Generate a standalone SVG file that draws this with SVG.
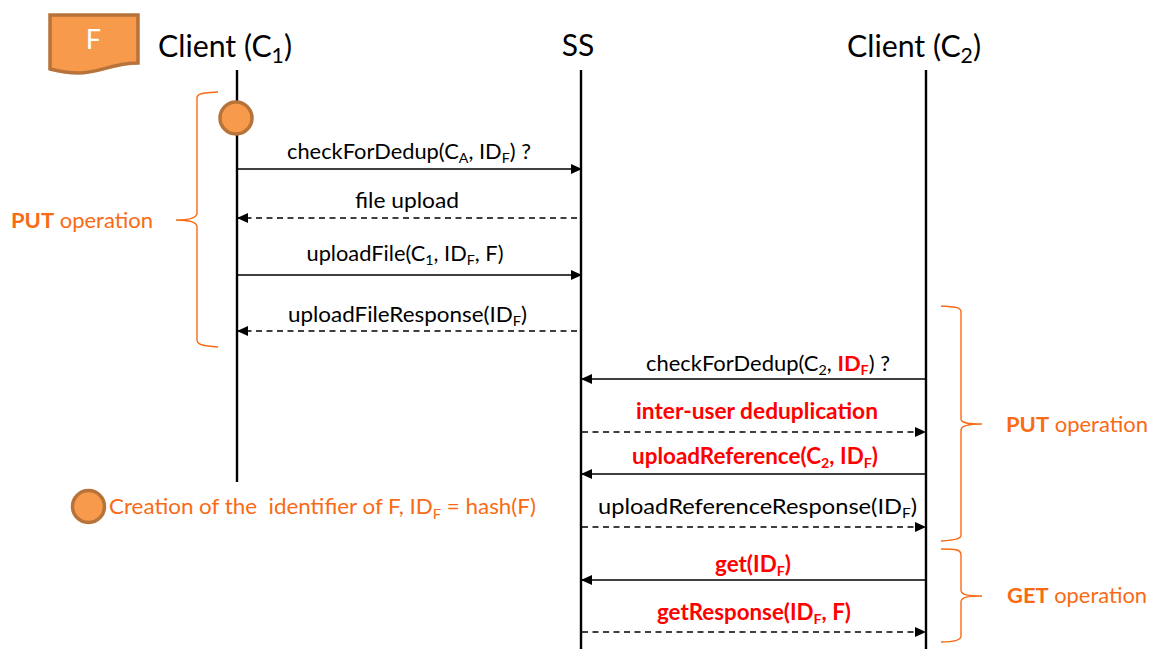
<svg xmlns="http://www.w3.org/2000/svg" width="1150" height="649" viewBox="0 0 1150 649">
<style>
text{font-family:Lato,"Open Sans","Liberation Sans",sans-serif;white-space:pre}
.h{font-size:30px;fill:#000;text-anchor:middle}
.l{font-size:21.500px;fill:#000;text-anchor:middle}
.r{font-size:22px;fill:#f00;font-weight:700;text-anchor:middle}
.o{font-size:21.500px;fill:#f96a15}
.s{font-size:14px}
.hs{font-size:21px}
.b{font-weight:700}
.life{stroke:#000;stroke-width:2.4;fill:none}
.msg{stroke:#000;stroke-width:1.4;fill:none}
.d{stroke-dasharray:6 4.5}
.e{marker-end:url(#a)}
.br{stroke:#f96a15;stroke-width:1.4;fill:none}
.shape{fill:#f79a4c;stroke:#b8733a;stroke-width:3.5}
</style>
<defs><marker id="a" markerUnits="userSpaceOnUse" markerWidth="11" markerHeight="10" refX="10" refY="5" orient="auto"><path d="M0 0L11 5L0 10z" fill="#000"/></marker></defs>
<rect width="1150" height="649" fill="#fff"/>
<g id="connectors">
<path class="life" d="M237 70V482M581 70V649M926 70V649"/>
<path class="msg e" d="M238 169H581"/>
<path class="msg d e" d="M577 218H238"/>
<path class="msg e" d="M238 275H581"/>
<path class="msg d e" d="M577 331H238"/>
<path class="msg e" d="M925 379H582"/>
<path class="msg d e" d="M582 432H925"/>
<path class="msg e" d="M925 474H582"/>
<path class="msg d e" d="M582 527H925"/>
<path class="msg e" d="M925 580H582"/>
<path class="msg d e" d="M582 632H925"/>
</g>
<g id="file-F"><path class="shape" d="M50 15H138V63C112 63 100 73 78 73C66 73 58 71 50 69Z"/><text x="93.500" y="49" font-size="27" fill="#fff" text-anchor="middle">F</text></g>
<g id="client-c1"><text class="h" x="225" y="57" textLength="134" lengthAdjust="spacingAndGlyphs">Client (C<tspan class="hs" dy="6">1</tspan><tspan dy="-6">)</tspan></text></g>
<g id="ss"><text class="h" x="578" y="56">SS</text></g>
<g id="client-c2"><text class="h" x="914" y="57" textLength="134" lengthAdjust="spacingAndGlyphs">Client (C<tspan class="hs" dy="6">2</tspan><tspan dy="-6">)</tspan></text></g>
<g id="marker-circle"><circle class="shape" cx="236" cy="118" r="16"/></g>
<g id="legend"><circle class="shape" cx="88.500" cy="506.500" r="16"/><text class="o" x="109" y="514" textLength="427" lengthAdjust="spacingAndGlyphs">Creation of the  identifier of F, ID<tspan class="s" dy="5">F</tspan><tspan dy="-5"> = hash(F)</tspan></text></g>
<g id="put-left"><path class="br" d="M218 92C204 93 197 93 197 98V213C197 218 190 220 176 220C190 220 197 222 197 227V340C197 345 204 346 218 347"/><text class="o" x="11" y="228" textLength="142" lengthAdjust="spacingAndGlyphs"><tspan class="b">PUT</tspan> operation</text></g>
<g id="put-right"><path class="br" d="M941 306C955 307 961 307 961 312V419C961 423 968 424 982 424C968 424 961 426 961 430V535C961 539 955 540 941 541"/><text class="o" x="1006" y="432" textLength="142" lengthAdjust="spacingAndGlyphs"><tspan class="b">PUT</tspan> operation</text></g>
<g id="get-right"><path class="br" d="M941 549C955 549 961 549 961 555V590C961 595 968 596 982 596C968 596 961 597 961 602V636C961 640 955 642 941 642"/><text class="o" x="1007" y="603" textLength="140" lengthAdjust="spacingAndGlyphs"><tspan class="b">GET</tspan> operation</text></g>
<g id="labels">
<text class="l" x="409" y="159" textLength="244" lengthAdjust="spacingAndGlyphs">checkForDedup(C<tspan class="s" dy="4">A</tspan><tspan dy="-4">, ID</tspan><tspan class="s" dy="4">F</tspan><tspan dy="-4">) ?</tspan></text>
<text class="l" x="407" y="208" textLength="104" lengthAdjust="spacingAndGlyphs">file upload</text>
<text class="l" x="405" y="261" textLength="197" lengthAdjust="spacingAndGlyphs">uploadFile(C<tspan class="s" dy="4">1</tspan><tspan dy="-4">, ID</tspan><tspan class="s" dy="4">F</tspan><tspan dy="-4">, F)</tspan></text>
<text class="l" x="407.500" y="322" textLength="239" lengthAdjust="spacingAndGlyphs">uploadFileResponse(ID<tspan class="s" dy="4">F</tspan><tspan dy="-4">)</tspan></text>
<text class="l" x="768" y="371" textLength="244" lengthAdjust="spacingAndGlyphs">checkForDedup(C<tspan class="s" dy="4">2</tspan><tspan dy="-4">, </tspan><tspan fill="#f00" font-weight="700">ID</tspan><tspan class="s" fill="#f00" font-weight="700" dy="4">F</tspan><tspan dy="-4">) ?</tspan></text>
<text class="r" x="757" y="419" textLength="242" lengthAdjust="spacingAndGlyphs">inter-user deduplication</text>
<text class="r" x="755" y="464" textLength="246" lengthAdjust="spacingAndGlyphs">uploadReference(C<tspan class="s" dy="4">2</tspan><tspan dy="-4">, ID</tspan><tspan class="s" dy="4">F</tspan><tspan dy="-4">)</tspan></text>
<text class="l" x="757.500" y="514" textLength="319" lengthAdjust="spacingAndGlyphs">uploadReferenceResponse(ID<tspan class="s" dy="4">F</tspan><tspan dy="-4">)</tspan></text>
<text class="r" x="753" y="572" textLength="76" lengthAdjust="spacingAndGlyphs">get(ID<tspan class="s" dy="4">F</tspan><tspan dy="-4">)</tspan></text>
<text class="r" x="754" y="620" textLength="194" lengthAdjust="spacingAndGlyphs">getResponse(ID<tspan class="s" dy="4">F</tspan><tspan dy="-4">, F)</tspan></text>
</g>
</svg>
